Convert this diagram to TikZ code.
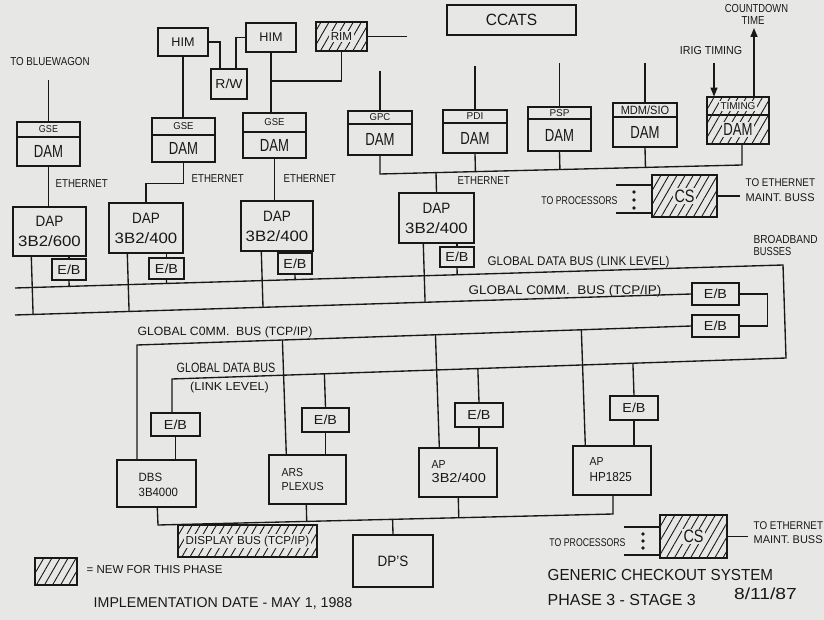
\documentclass[tikz,border=0pt]{standalone}
\usepackage{fontspec}
\usepackage{graphicx}
\setmainfont{Liberation Sans}
\usetikzlibrary{calc,patterns.meta,arrows.meta}
\definecolor{bg}{RGB}{231,231,229}
\definecolor{ink}{RGB}{24,24,24}
\newcommand\T[3]{{\fontsize{#1}{#1}\selectfont\scalebox{#2}[1]{#3}}}
\tikzset{
  bx/.style 2 args={draw=ink, rectangle, inner sep=0pt, minimum width=#1pt, minimum height=#2pt, line width=1.4pt},
  hatch/.style={pattern={Lines[angle=60,distance=7pt,line width=0.9pt]}, pattern color=ink},
  clr/.style={fill=bg, inner sep=1.5pt},
  lbl/.style={inner sep=0pt},
  dot/.style={circle, fill=ink, inner sep=0pt, minimum size=3.8pt},
  arr/.style={-{Triangle[length=9pt,width=7pt]}},
}
\begin{document}
\begin{tikzpicture}[x=1pt,y=-1pt,line width=1.35pt,color=ink]
\fill[bg] (0,0) rectangle (824,620);
\useasboundingbox (0,0) rectangle (824,620);

% ---------- top row boxes ----------
\node[bx={63}{15}] (gse1h) at (48.5,129.5) {\T{10}{0.9}{GSE}};
\node[bx={63}{29}] (gse1b) at (48.5,151.5) {\T{17.5}{0.75}{DAM}};
\node[bx={63}{17}] (gse2h) at (183.5,126.5) {\T{10}{0.95}{GSE}};
\node[bx={63}{27}] (gse2b) at (183.5,148.5) {\T{17.5}{0.75}{DAM}};
\node[bx={63}{19}] (gse3h) at (274.5,122.5) {\T{10}{0.95}{GSE}};
\node[bx={63}{26}] (gse3b) at (274.5,145) {\T{17.5}{0.75}{DAM}};
\node[bx={64}{13}] (gpch) at (380,117.5) {\T{10}{0.95}{GPC}};
\node[bx={64}{31}] (gpcb) at (380,139.5) {\T{17.5}{0.75}{DAM}};
\node[bx={64}{13}] (pdih) at (475,116.5) {\T{10}{1}{PDI}};
\node[bx={64}{30}] (pdib) at (475,138) {\T{17.5}{0.75}{DAM}};
\node[bx={63}{12}] (psph) at (559.5,113) {\T{10}{1}{PSP}};
\node[bx={63}{32}] (pspb) at (559.5,135) {\T{17.5}{0.75}{DAM}};
\node[bx={64}{14}] (mdmh) at (645,110) {\T{12}{0.92}{MDM/SIO}};
\node[bx={64}{30}] (mdmb) at (645,132) {\T{17.5}{0.75}{DAM}};
\node[bx={62}{18},hatch] (timh) at (738,106) {};
\node[bx={62}{29},hatch] (timb) at (738,129.5) {};
\node[clr] (timht) at (timh) {\T{10}{1}{TIMING}};
\node[clr] (timbt) at (timb) {\T{17.5}{0.75}{DAM}};

\node[bx={50}{28}] (him1) at (183,42) {\T{12.6}{1}{HIM}};
\node[bx={36}{30}] (rw) at (229,84) {\T{13}{1.07}{R/W}};
\node[bx={50}{29}] (him2) at (271,37.5) {\T{12.6}{1}{HIM}};
\node[bx={51}{29},hatch] (rim) at (341.5,36.5) {};
\node[clr] (rimt) at (rim) {\T{11.6}{1}{RIM}};
\node[bx={129}{30}] (ccats) at (511.5,20) {\T{16.3}{0.95}{CCATS}};

% ---------- DAPs ----------
\node[bx={73}{49}, align=center, font=\fontsize{15}{20}\selectfont] (dap1) at (49.5,231.5) {\T{15}{0.9}{DAP}\\\T{15}{1.12}{3B2/600}};
\node[bx={74}{50}, align=center, font=\fontsize{15}{20}\selectfont] (dap2) at (146,228) {\T{15}{0.9}{DAP}\\\T{15}{1.12}{3B2/400}};
\node[bx={72}{50}, align=center, font=\fontsize{15}{20}\selectfont] (dap3) at (277,226) {\T{15}{0.9}{DAP}\\\T{15}{1.12}{3B2/400}};
\node[bx={75}{50}, align=center, font=\fontsize{15}{20}\selectfont] (dap4) at (436.5,218) {\T{15}{0.9}{DAP}\\\T{15}{1.12}{3B2/400}};
\node[bx={34}{21}] (eb1) at (69,269.5) {\T{13}{1.1}{E/B}};
\node[bx={35}{21}] (eb2) at (166.5,268.5) {\T{13}{1.1}{E/B}};
\node[bx={34}{21}] (eb3) at (295,263.5) {\T{13}{1.1}{E/B}};
\node[bx={34}{20}] (eb4) at (457,257) {\T{13}{1.1}{E/B}};
\node[bx={47}{22}] (ebr1) at (715.5,294) {\T{13}{1.1}{E/B}};
\node[bx={47}{22}] (ebr2) at (715.5,326) {\T{13}{1.1}{E/B}};

% ---------- CS boxes ----------
\node[bx={65}{42},hatch] (cs1) at (684.5,196) {};
\node[clr] (cs1t) at (cs1) {\T{18}{0.8}{CS}};
\node[bx={67}{43},hatch] (cs2) at (693.5,536.5) {};
\node[clr] (cs2t) at (cs2) {\T{18}{0.8}{CS}};
\node[dot] (dA1) at (634,192) {};
\node[dot] (dA2) at (634,200) {};
\node[dot] (dA3) at (634,208) {};
\node[dot] (dB1) at (643,534) {};
\node[dot] (dB2) at (643,541) {};
\node[dot] (dB3) at (643,548) {};

% ---------- lower processors ----------
\node[bx={49}{23}] (ebdbs) at (175.5,424.5) {\T{13}{1.1}{E/B}};
\node[bx={79}{47}] (dbs) at (156.5,483.5) {};
\node[lbl, anchor=west, align=left, font=\fontsize{12}{15}\selectfont] (dbst) at (138,485) {\T{12}{0.95}{DBS}\\\T{12}{0.95}{3B4000}};
\node[bx={47}{24}] (ebars) at (325.5,420) {\T{13}{1.1}{E/B}};
\node[bx={77}{49}] (ars) at (307.5,479.5) {};
\node[lbl, anchor=west, align=left, font=\fontsize{11.6}{13.5}\selectfont] (arst) at (281,479.5) {\T{11.6}{0.9}{ARS}\\\T{11.6}{0.92}{PLEXUS}};
\node[bx={48}{24}] (ebap1) at (479,415) {\T{13}{1.1}{E/B}};
\node[bx={78}{49}] (ap1) at (458,472.5) {};
\node[lbl, anchor=west, align=left, font=\fontsize{12}{14.5}\selectfont] (ap1t) at (431,471.5) {\T{11.6}{0.9}{AP}\\\T{13}{1.12}{3B2/400}};
\node[bx={48}{24}] (ebap2) at (634,408) {\T{13}{1.1}{E/B}};
\node[bx={78}{49}] (ap2) at (612,470.5) {};
\node[lbl, anchor=west, align=left, font=\fontsize{12}{16}\selectfont] (ap2t) at (589,469.5) {\T{11.6}{0.9}{AP}\\\T{13}{0.9}{HP1825}};
\node[bx={80}{52}] (dps) at (393,561) {\T{15}{0.9}{DP'S}};
\node[bx={139}{32},hatch] (dbus) at (247.5,541) {};
\node[clr] (dbust) at (dbus) {\T{11.6}{1}{DISPLAY BUS (TCP/IP)}};
\node[bx={42}{27},hatch] (legend) at (56,571.5) {};

% ---------- free ends ----------
\coordinate (toblue) at (48.5,80);
\coordinate (rimR) at (407,36.5);
\coordinate (rimj) at (271,81);
\coordinate (gpcU) at (380,71);
\coordinate (pdiU) at (475,66);
\coordinate (pspU) at (559.5,63);
\coordinate (mdmU) at (645,63);
\coordinate (irig) at (714,63);
\coordinate (cdt) at (754,28);
\coordinate (eL) at (380,174);
\coordinate (eR) at (742,165);
\coordinate (p1a) at (616,185);
\coordinate (p1b) at (616,213);
\coordinate (m1) at (740,196);
\coordinate (p2a) at (624,527);
\coordinate (p2b) at (624,555);
\coordinate (m2) at (748,536.5);
\coordinate (d1L) at (15,288);
\coordinate (d1R) at (783,265);
\coordinate (d2R) at (786,358);
\coordinate (d2L) at (172,379);
\coordinate (c1L) at (15,315);
\coordinate (c2L) at (137,345);
\coordinate (dbL) at (158,525);
\coordinate (dbR) at (613,514);

% ---------- top connectors ----------
\draw (toblue) -- (gse1h.north);
\draw (gse1b.south) -- (gse1b.south |- dap1.north);
\draw (gse2b.south) -- ++(0,21) -| (dap2.north);
\draw (gse3b.south) -- (gse3b.south |- dap3.north);
\draw (him1.south) -- (him1.south |- gse2h.north);
\draw (him1.east) -| ($(rw.north)+(-9,0)$);
\draw ($(rw.north)+(7,0)$) |- (him2.west);
\draw (him2.south) -- (him2.south |- gse3h.north);
\draw (rim.south) |- (rimj);
\draw (rim.east) -- (rimR);
\draw (gpcU) -- (gpch.north);
\draw (pdiU) -- (pdih.north);
\draw (pspU) -- (psph.north);
\draw (mdmU) -- (mdmh.north);
\draw[arr] (irig) -- (irig |- timh.north);
\draw[arr] (cdt |- timh.north) -- (cdt);
\draw (gpcb.south) -- (eL) -- (eR) -- (eR |- timb.south);
\draw (pdib.south) -- ($(eL)!(pdib.south)!(eR)$);
\draw (pspb.south) -- ($(eL)!(pspb.south)!(eR)$);
\draw (mdmb.south) -- ($(eL)!(mdmb.south)!(eR)$);
\draw ($(eL)!(dap4.north)!(eR)$) -- (dap4.north);
\draw (p1a) -- (p1a -| cs1.west);
\draw (p1b) -- (p1b -| cs1.west);
\draw (cs1.east) -- (m1);
\draw (p2a) -- (p2a -| cs2.west);
\draw (p2b) -- (p2b -| cs2.west);
\draw (cs2.east) -- (m2);

% ---------- DAP to buses ----------
\foreach \d/\e in {dap1/eb1,dap2/eb2,dap3/eb3,dap4/eb4}{
  \draw (\e.north |- \d.south) -- (\e.north);
  \draw (\e.south) -- ($(d1L)!(\e.south)!(d1R)$);
}
\coordinate (k1) at ($(dap1.south west)+(19,0)$);
\coordinate (k2) at ($(dap2.south west)+(19,0)$);
\coordinate (k3) at ($(dap3.south west)+(21,0)$);
\coordinate (k4) at ($(dap4.south west)+(25,0)$);
\foreach \k in {k1,k2,k3,k4}{
  \draw (\k) -- ($(c1L)!(\k)!(ebr1.west)$);
}
\draw (c1L) -- (ebr1.west);
\draw (d1L) -- (d1R) -- (d2R) -- (d2L) -- (d2L |- ebdbs.north);
\draw (ebr1.east) -- ++(28,0) |- (ebr2.east);
\draw (ebr2.west) -- (c2L) -- (c2L |- dbs.north);

% ---------- lower connectors ----------
\draw (ebdbs.south) -- (ebdbs.south |- dbs.north);
\foreach \e/\p in {ebars/ars,ebap1/ap1,ebap2/ap2}{
  \draw ($(d2R)!(\e.north)!(d2L)$) -- (\e.north);
  \draw (\e.south) -- (\e.south |- \p.north);
}
\coordinate (q1) at ($(ars.north west)+(18,0)$);
\coordinate (q2) at ($(ap1.north west)+(21,0)$);
\coordinate (q3) at ($(ap2.north west)+(13,0)$);
\foreach \q in {q1,q2,q3}{
  \draw ($(ebr2.west)!(\q)!(c2L)$) -- (\q);
}
\coordinate (r0) at ($(dbs.south west)+(41,0)$);
\coordinate (r1) at ($(ars.south west)+(38,0)$);
\coordinate (r2) at ($(ap1.south west)+(40,0)$);
\draw (r0) -- (dbL) -- (dbR) -- (dbR |- ap2.south);
\draw (r1) -- ($(dbL)!(r1)!(dbR)$);
\draw (r2) -- ($(dbL)!(r2)!(dbR)$);
\draw (dps.north) -- ($(dbL)!(dps.north)!(dbR)$);

% ---------- labels ----------
\node[lbl] (tobw) at (50,62) {\T{11.5}{0.85}{TO BLUEWAGON}};
\node[lbl, anchor=west] (eth1) at (55,184) {\T{11.5}{0.84}{ETHERNET}};
\node[lbl, anchor=west] (eth2) at (191,179) {\T{11.5}{0.84}{ETHERNET}};
\node[lbl, anchor=west] (eth3) at (283,179) {\T{11.5}{0.84}{ETHERNET}};
\node[lbl, anchor=west] (eth4) at (457,181) {\T{11.5}{0.84}{ETHERNET}};
\node[lbl] (irigt) at (711,51) {\T{11.6}{0.92}{IRIG TIMING}};
\node[lbl] (cdtt) at (756.5,9) {\T{11.6}{0.81}{COUNTDOWN}};
\node[lbl] (timet) at (753,21) {\T{11.6}{0.83}{TIME}};
\node[lbl] (proc1) at (579.5,201) {\T{11.2}{0.78}{TO PROCESSORS}};
\node[lbl, anchor=west] (toe1) at (745,183) {\T{11.2}{0.88}{TO ETHERNET}};
\node[lbl, anchor=west] (mb1) at (745,198) {\T{11.2}{0.98}{MAINT. BUSS}};
\node[lbl, anchor=west] (bb) at (753,240) {\T{11.6}{0.87}{BROADBAND}};
\node[lbl, anchor=west] (bs) at (753,252) {\T{11.6}{0.8}{BUSSES}};
\node[lbl] (gdb) at (578.5,262) {\T{12.6}{0.92}{GLOBAL DATA BUS (LINK LEVEL)}};
\node[lbl] (gcb1) at (565,291) {\T{12.6}{1.07}{GLOBAL C0MM.\ \ BUS (TCP/IP)}};
\node[lbl] (gcb2) at (225,332.5) {\T{12}{1.02}{GLOBAL C0MM.\ \ BUS (TCP/IP)}};
\node[lbl] (gdb2) at (226,368) {\T{13.5}{0.8}{GLOBAL DATA BUS}};
\node[lbl] (ll) at (229.5,387.5) {\T{11.6}{1.08}{(LINK LEVEL)}};
\node[lbl] (proc2) at (587.5,542.5) {\T{11.2}{0.78}{TO PROCESSORS}};
\node[lbl, anchor=west] (toe2) at (753,526) {\T{11.2}{0.88}{TO ETHERNET}};
\node[lbl, anchor=west] (mb2) at (753,539.5) {\T{11.2}{0.98}{MAINT. BUSS}};
\node[lbl, anchor=west] (newp) at (86,569.5) {\T{11.5}{1}{= NEW FOR THIS PHASE}};
\node[lbl] (impl) at (223,603.5) {\T{14.2}{1}{IMPLEMENTATION DATE - MAY 1, 1988}};
\node[lbl, anchor=west] (gen) at (547,574.5) {\T{16}{0.95}{GENERIC CHECKOUT SYSTEM}};
\node[lbl, anchor=west] (ph) at (547,599.5) {\T{16}{1}{PHASE 3 - STAGE 3}};
\node[lbl] (date) at (765.5,594) {\T{16}{1.2}{8/11/87}};
\end{tikzpicture}
\end{document}
